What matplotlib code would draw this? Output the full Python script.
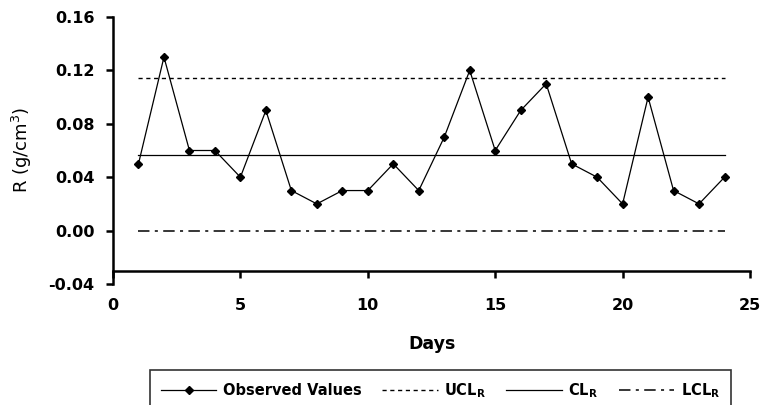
import matplotlib
matplotlib.use("Agg")
import matplotlib.pyplot as plt
from matplotlib.ticker import FormatStrFormatter

plt.rcParams["axes.unicode_minus"] = False
plt.rcParams["font.family"] = ["DejaVu Sans"]
plt.rcParams["mathtext.fontset"] = "dejavusans"

# Daily range observations
days = list(range(1, 25))
r_values = [0.05, 0.13, 0.06, 0.06, 0.04, 0.09, 0.03, 0.02, 0.03, 0.03, 0.05, 0.03,
            0.07, 0.12, 0.06, 0.09, 0.11, 0.05, 0.04, 0.02, 0.10, 0.03, 0.02, 0.04]

# Control limits for the range chart
ucl_r = 0.114
cl_r = 0.057
lcl_r = 0.0

x_ticks = [0, 5, 10, 15, 20, 25]
y_ticks = [-0.04, 0.00, 0.04, 0.08, 0.12, 0.16]

W, H = 768, 405
fig = plt.figure(figsize=(W / 100, H / 100), dpi=100)
ax = fig.add_axes([113 / W, 1 - 284 / H, 637 / W, 267 / H])

line_obs, = ax.plot(days, r_values, color="black", lw=0.9, marker="D",
                    markersize=3.6, markerfacecolor="black", markeredgecolor="black",
                    label="Observed Values", zorder=4)
span = [days[0], days[-1]]
line_ucl, = ax.plot(span, [ucl_r, ucl_r], color="black", lw=1.0,
                    dashes=(3.0, 2.6), label=r"UCL$_\mathbf{R}$")
line_cl, = ax.plot(span, [cl_r, cl_r], color="black", lw=0.9,
                   label=r"CL$_\mathbf{R}$")
line_lcl, = ax.plot(span, [lcl_r, lcl_r], color="black", lw=1.1,
                    dashes=(7.5, 3.5, 2.0, 3.5), label=r"LCL$_\mathbf{R}$")

ax.set_xlim(0, 25)
ax.set_ylim(-0.04, 0.16)
ax.set_xticks(x_ticks)
ax.set_yticks(y_ticks)
ax.yaxis.set_major_formatter(FormatStrFormatter("%.2f"))

for side in ("top", "right"):
    ax.spines[side].set_visible(False)
ax.spines["bottom"].set_position(("data", -0.03))
for side in ("left", "bottom"):
    ax.spines[side].set_linewidth(1.8)

ax.tick_params(axis="both", direction="out", length=5, width=1.8, labelsize=11.5)
ax.tick_params(axis="y", pad=8.5)
ax.tick_params(axis="x", pad=14.5)
for lbl in ax.get_xticklabels() + ax.get_yticklabels():
    lbl.set_fontweight("bold")

fig.text(432 / W, 1 - 349 / H, "Days", ha="center", va="baseline",
         fontsize=12.5, fontweight="bold")
fig.text(22 / W, 1 - 150 / H, r"R (g/cm$^3$)", ha="center", va="center",
         rotation=90, fontsize=13)

leg = fig.legend(handles=[line_obs, line_ucl, line_cl, line_lcl],
                 loc="upper left", bbox_to_anchor=(150 / W, 1 - 370 / H),
                 ncol=4, frameon=True, fancybox=False, edgecolor="black",
                 prop={"weight": "bold", "size": 10.5},
                 handlelength=3.8, handletextpad=0.45, columnspacing=1.4,
                 borderpad=0.75, borderaxespad=0)
leg.get_frame().set_linewidth(1.2)

fig.savefig("out.png", dpi=100, facecolor="white")
